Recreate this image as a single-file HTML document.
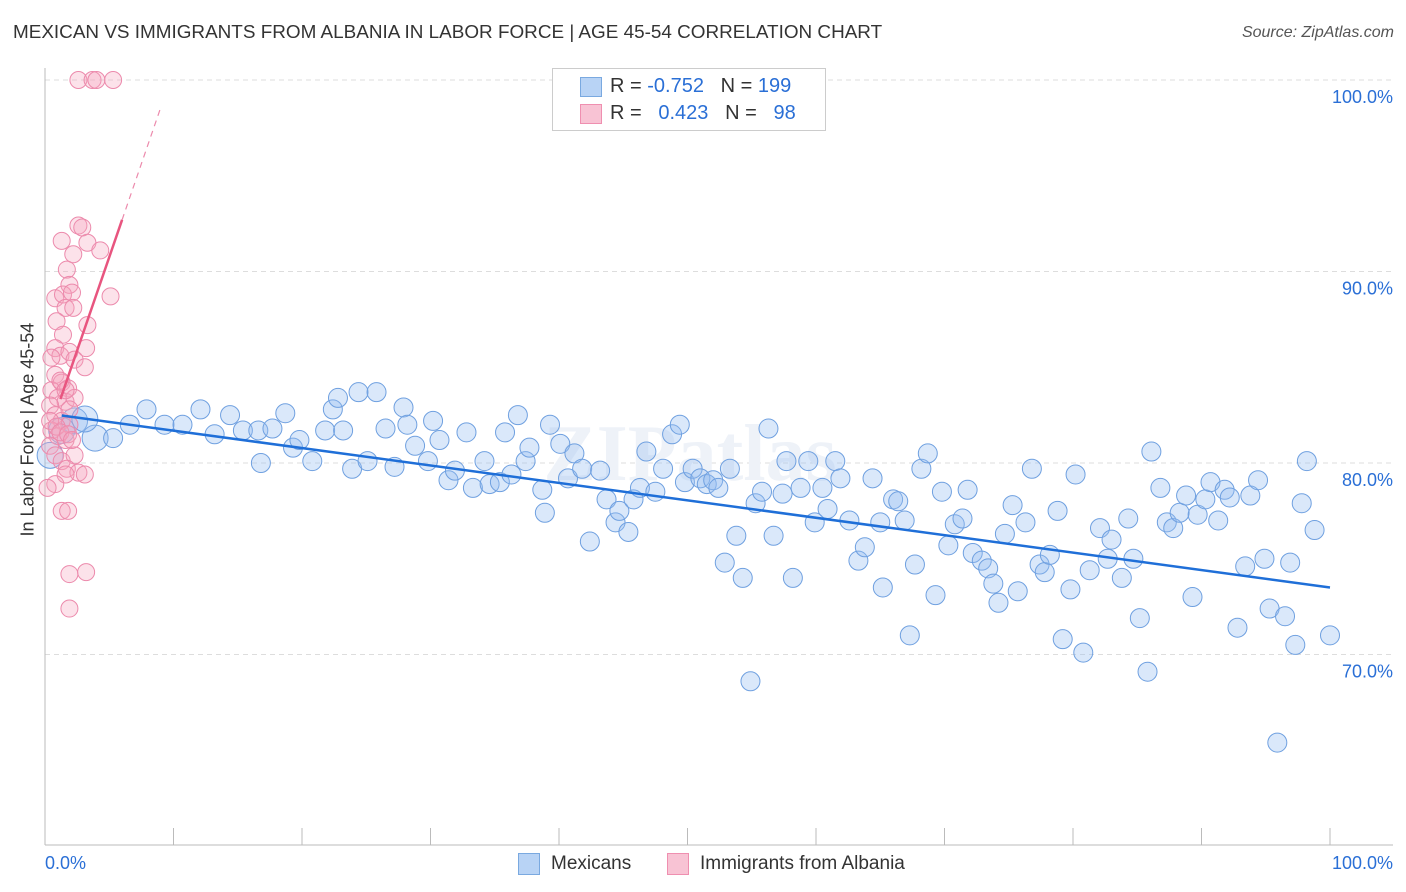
<!DOCTYPE html>
<html><head><meta charset="utf-8">
<style>
body{margin:0;background:#fff;font-family:"Liberation Sans",sans-serif;}
#wrap{position:relative;width:1406px;height:892px;overflow:hidden;}
.t{position:absolute;white-space:nowrap;}
</style></head>
<body>
<div id="wrap">
<div class="t" style="left:13px;top:22px;font-size:18.9px;color:#333;">MEXICAN VS IMMIGRANTS FROM ALBANIA IN LABOR FORCE | AGE 45-54 CORRELATION CHART</div>
<div class="t" style="right:12px;top:24px;font-size:16px;color:#555;font-style:italic;">Source: ZipAtlas.com</div>
<div class="t" style="left:-52px;top:446px;font-size:18px;color:#333;transform:rotate(-90deg);transform-origin:center;width:160px;text-align:center;">In Labor Force | Age 45-54</div>
<svg id="svg" width="1406" height="892" style="position:absolute;left:0;top:0"></svg>
<div style="position:absolute;left:552px;top:68px;width:272px;height:61px;border:1px solid #ccc;background:#fff;">
 <div style="position:absolute;left:27px;top:8px;width:20px;height:18px;background:#b8d3f5;border:1px solid #7aa9e0;"></div>
 <div class="t" style="left:57px;top:6px;font-size:20px;color:#333;">R = <span style="color:#2a6fd6">-0.752</span>&nbsp;&nbsp;&nbsp;N = <span style="color:#2a6fd6">199</span></div>
 <div style="position:absolute;left:27px;top:35px;width:20px;height:18px;background:#f8c3d4;border:1px solid #ef8fb0;"></div>
 <div class="t" style="left:57px;top:33px;font-size:20px;color:#333;">R = &nbsp;&nbsp;<span style="color:#2a6fd6">0.423</span>&nbsp;&nbsp;&nbsp;N = &nbsp;&nbsp;<span style="color:#2a6fd6">98</span></div>
</div>
<div class="t" style="left:45px;top:853px;font-size:18px;color:#2a6fd6;">0.0%</div>
<div class="t" style="right:13px;top:853px;font-size:18px;color:#2a6fd6;">100.0%</div>
<div style="position:absolute;left:518px;top:853px;width:20px;height:20px;background:#b8d3f5;border:1px solid #7aa9e0;"></div>
<div class="t" style="left:551px;top:853px;font-size:19px;color:#333;">Mexicans</div>
<div style="position:absolute;left:667px;top:853px;width:20px;height:20px;background:#f8c3d4;border:1px solid #ef8fb0;"></div>
<div class="t" style="left:700px;top:853px;font-size:19px;color:#333;">Immigrants from Albania</div>
</div>
<script>
const yTicks=[100,90,80,70];
const yTickLabels=["100.0%","90.0%","80.0%","70.0%"];
const xTicks=[0,10,20,30,40,50,60,70,80,90,100];
const blueX=[3.9,5.3,6.6,7.9,9.3,10.7,12.1,13.2,14.4,15.4,16.6,16.8,17.7,18.7,19.3,19.8,20.8,21.8,22.4,22.8,23.2,23.9,24.4,25.1,25.8,26.5,27.2,27.9,28.2,28.8,29.8,30.2,30.7,31.4,31.9,32.8,33.3,34.2,34.6,35.4,35.8,36.3,36.8,37.4,37.7,38.7,38.9,39.3,40.1,40.7,41.2,41.8,42.4,43.2,43.7,44.4,44.7,45.4,45.8,46.3,46.8,47.5,48.1,48.8,49.4,49.8,50.4,51.0,51.5,52.0,52.4,52.9,53.3,53.8,54.3,54.9,55.3,55.8,56.3,56.7,57.4,57.7,58.2,58.8,59.4,59.9,60.5,60.9,61.5,61.9,62.6,63.3,63.8,64.4,65.0,65.2,66.0,66.4,66.9,67.3,67.7,68.2,68.7,69.3,69.8,70.3,70.8,71.4,71.8,72.2,72.9,73.4,73.8,74.2,74.7,75.3,75.7,76.3,76.8,77.4,77.8,78.2,78.8,79.2,79.8,80.2,80.8,81.3,82.1,82.7,83.0,83.8,84.3,84.7,85.2,85.8,86.1,86.8,87.3,87.8,88.3,88.8,89.3,89.7,90.3,90.7,91.3,91.8,92.2,92.8,93.4,93.8,94.4,94.9,95.3,95.9,96.5,96.9,97.3,97.8,98.2,98.8,100,0.4,1.3,2.3,3.1];
const blueY=[81.3,81.3,82.0,82.8,82.0,82.0,82.8,81.5,82.5,81.7,81.7,80.0,81.8,82.6,80.8,81.2,80.1,81.7,82.8,83.4,81.7,79.7,83.7,80.1,83.7,81.8,79.8,82.9,82.0,80.9,80.1,82.2,81.2,79.1,79.6,81.6,78.7,80.1,78.9,79.0,81.6,79.4,82.5,80.1,80.8,78.6,77.4,82.0,81.0,79.2,80.5,79.7,75.9,79.6,78.1,76.9,77.5,76.4,78.1,78.7,80.6,78.5,79.7,81.5,82.0,79.0,79.7,79.2,78.9,79.1,78.7,74.8,79.7,76.2,74.0,68.6,77.9,78.5,81.8,76.2,78.4,80.1,74.0,78.7,80.1,76.9,78.7,77.6,80.1,79.2,77.0,74.9,75.6,79.2,76.9,73.5,78.1,78.0,77.0,71.0,74.7,79.7,80.5,73.1,78.5,75.7,76.8,77.1,78.6,75.3,74.9,74.5,73.7,72.7,76.3,77.8,73.3,76.9,79.7,74.7,74.3,75.2,77.5,70.8,73.4,79.4,70.1,74.4,76.6,75.0,76.0,74.0,77.1,75.0,71.9,69.1,80.6,78.7,76.9,76.6,77.4,78.3,73.0,77.3,78.1,79.0,77.0,78.6,78.2,71.4,74.6,78.3,79.1,75.0,72.4,65.4,72.0,74.8,70.5,77.9,80.1,76.5,71.0,80.4,81.7,82.2,82.3];
const pinkX=[2.6,3.7,4.0,5.3,2.6,2.9,1.3,3.3,2.2,4.3,1.7,1.9,0.8,1.4,2.1,5.1,1.6,2.2,0.9,3.3,1.4,0.8,1.2,1.9,2.3,3.2,0.5,3.1,0.8,1.3,1.8,0.5,1.0,1.6,2.3,0.4,0.8,1.3,1.9,0.5,1.0,1.6,0.4,0.8,1.3,2.3,1.7,2.6,3.1,1.6,0.8,0.2,1.3,1.8,1.9,3.2,1.9,1.2,1.6,1.9,0.4,0.9,1.2,1.8,2.1];
const pinkY=[100,100,100,100,92.4,92.3,91.6,91.5,90.9,91.1,90.1,89.3,88.6,88.8,88.9,88.7,88.1,88.1,87.4,87.2,86.7,86.0,85.6,85.8,85.4,86.0,85.5,85.0,84.6,84.2,83.9,83.8,83.4,83.2,83.4,83.0,82.5,82.2,82.0,81.7,81.4,81.2,80.9,80.4,80.1,80.4,79.7,79.5,79.4,79.4,78.9,78.7,77.5,77.5,74.2,74.3,72.4,84.3,83.8,82.8,82.2,81.9,81.6,81.5,81.2];
const blueTrend=[82.6,73.5];
const pinkTrend=[81.0,1.95];
const NS="http://www.w3.org/2000/svg";
const svg=document.getElementById('svg');
const X0=45,X1=1330,Y100=80,PX=19.15;
const sx=v=>X0+(X1-X0)*v/100;
const sy=v=>Y100+(100-v)*PX;
function mk(tag,attrs){const e=document.createElementNS(NS,tag);for(const k in attrs)e.setAttribute(k,attrs[k]);svg.appendChild(e);return e;}
yTicks.forEach((t,i)=>{
 const g=mk('line',{x1:X0,x2:1393,y1:sy(t),y2:sy(t),stroke:'#ddd','stroke-dasharray':'5,4'});
 
 
 const tx=mk('text',{x:1393,y:sy(t)+23,'text-anchor':'end','font-size':'18','fill':'#2a6fd6','font-family':'Liberation Sans, sans-serif'});
 tx.textContent=yTickLabels[i];
 
 
});
const ax=mk('line',{x1:X0,x2:X0,y1:68,y2:845,stroke:'#bbb'});


const bx=mk('line',{x1:X0,x2:1393,y1:845,y2:845,stroke:'#bbb'});


xTicks.forEach(t=>{
 const l=mk('line',{x1:sx(t),x2:sx(t),y1:828,y2:845,stroke:'#bbb'});
 
 
});
const wm=mk('text',{x:690,y:480,'text-anchor':'middle','font-size':'80','fill':'#eef2f8','font-family':'Liberation Serif, serif','font-weight':'bold'});
wm.textContent='ZIPatlas';


blueX.forEach((x,i)=>{
 const r=(x<5)?13:9.5;
 const c=mk('circle',{cx:sx(x),cy:sy(blueY[i]),r:r,fill:'rgba(150,190,240,0.35)',stroke:'#6fa0e0','stroke-width':1});
 
 
});
pinkX.forEach((x,i)=>{
 const c=mk('circle',{cx:sx(x),cy:sy(pinkY[i]),r:8.5,fill:'rgba(245,165,190,0.32)',stroke:'#ec8aac','stroke-width':1});
 
 
});
const bt=mk('line',{x1:sx(1.3),y1:sy(blueTrend[0]+(blueTrend[1]-blueTrend[0])*0.013),x2:sx(100),y2:sy(blueTrend[1]),stroke:'#1f6fd8','stroke-width':2.5});


const pf=x=>pinkTrend[0]+pinkTrend[1]*x;
const pt=mk('line',{x1:sx(1.2),y1:sy(pf(1.2)),x2:sx(6.0),y2:sy(pf(6.0)),stroke:'#e8557f','stroke-width':2.5});


const pd=mk('line',{x1:sx(6.0),y1:sy(pf(6.0)),x2:sx(9.0),y2:sy(pf(9.0)),stroke:'#ec8aac','stroke-width':1.2,'stroke-dasharray':'6,5'});


</script>
</body></html>
